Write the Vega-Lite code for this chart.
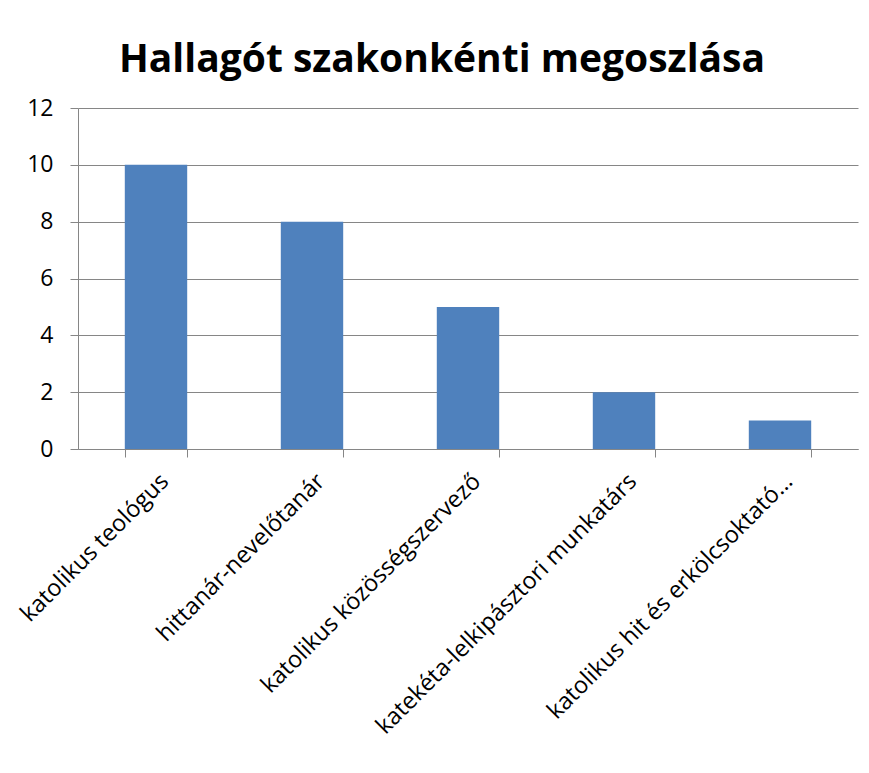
{
  "$schema": "https://vega.github.io/schema/vega-lite/v6.json",
  "width": 780,
  "height": 341,
  "autosize": {"type": "none"},
  "padding": {"left": 78, "top": 108, "right": 11, "bottom": 324},
  "background": "white",
  "title": {
    "text": "Hallagót szakonkénti megoszlása",
    "font": "Open Sans",
    "fontSize": 39,
    "fontWeight": "bold",
    "color": "black",
    "anchor": "middle",
    "baseline": "alphabetic",
    "offset": 33,
    "dx": -26,
    "dy": 47
  },
  "data": {
    "values": [
      {"szak": "katolikus teológus", "db": 10},
      {"szak": "hittanár-nevelőtanár", "db": 8},
      {"szak": "katolikus közösségszervező", "db": 5},
      {"szak": "katekéta-lelkipásztori munkatárs", "db": 2},
      {"szak": "katolikus hit és erkölcsoktató…", "db": 1}
    ]
  },
  "mark": {"type": "bar", "color": "#4F81BD"},
  "encoding": {
    "x": {
      "field": "szak",
      "type": "nominal",
      "sort": null,
      "scale": {"paddingInner": 0.6, "paddingOuter": 0.3},
      "axis": {
        "title": null,
        "tickBand": "extent",
        "tickSize": 8,
        "tickColor": "#868686",
        "domainColor": "#868686",
        "labelAngle": -45,
        "labelFont": "Open Sans",
        "labelFontSize": 23.5,
        "labelColor": "black",
        "labelPadding": 12,
        "labelLimit": 500
      }
    },
    "y": {
      "field": "db",
      "type": "quantitative",
      "scale": {"domain": [0, 12]},
      "axis": {
        "title": null,
        "values": [0, 2, 4, 6, 8, 10, 12],
        "tickSize": 8,
        "tickColor": "#868686",
        "domainColor": "#868686",
        "gridColor": "#868686",
        "gridWidth": 1,
        "labelFont": "Open Sans",
        "labelFontSize": 23,
        "labelColor": "black",
        "labelPadding": 17
      }
    }
  },
  "config": {"view": {"stroke": null}}
}
